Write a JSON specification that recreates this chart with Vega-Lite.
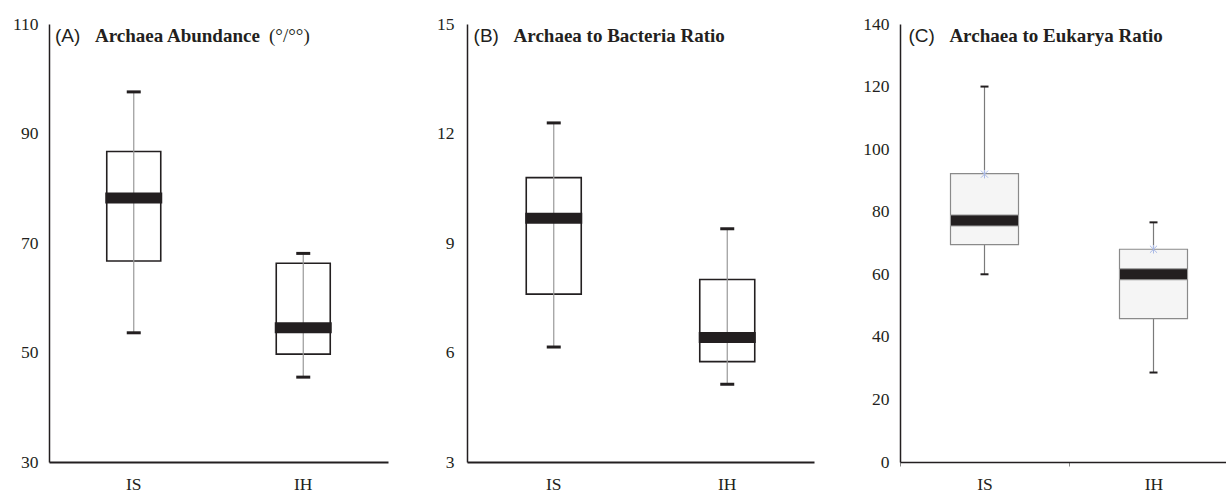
{
  "$schema": "https://vega.github.io/schema/vega-lite/v6.json",
  "padding": {"left": 12, "top": 15, "right": 0, "bottom": 0},
  "background": "white",
  "spacing": 48,
  "config": {
    "view": {"stroke": null},
    "axis": {
      "labelFont": "'Liberation Serif', 'DejaVu Serif', serif",
      "labelFontSize": 17.5,
      "labelColor": "#231f20",
      "domainColor": "#231f20",
      "grid": false,
      "ticks": false,
      "title": null
    }
  },
  "hconcat": [
    {
      "width": 339,
      "height": 438,
      "data": {"values": [
        {"g": "IS", "min": 53.6, "q1": 66.7, "med": 78.2, "q3": 86.7, "max": 97.6},
        {"g": "IH", "min": 45.5, "q1": 49.7, "med": 54.5, "q3": 66.3, "max": 68.1}
      ]},
      "encoding": {
        "x": {"field": "g", "type": "nominal", "sort": ["IS", "IH"],
          "scale": {"domain": ["IS", "IH"], "paddingInner": 0, "paddingOuter": 0},
          "axis": {"labelAngle": 0, "labelPadding": 13, "domainWidth": 2}}
      },
      "layer": [
        {"mark": {"type": "bar", "size": 54, "fill": "white", "stroke": "#231f20", "strokeWidth": 1.6},
         "encoding": {"y": {"field": "q1", "type": "quantitative",
            "scale": {"domain": [30, 110], "nice": false, "zero": false},
            "axis": {"values": [30, 50, 70, 90, 110], "labelPadding": 11, "domainWidth": 1.5}},
           "y2": {"field": "q3"}}},
        {"mark": {"type": "rule", "color": "#999999", "strokeWidth": 1.2},
         "encoding": {"y": {"field": "min", "type": "quantitative"}, "y2": {"field": "max"}}},
        {"mark": {"type": "tick", "size": 57, "thickness": 11, "color": "#231f20", "opacity": 1},
         "encoding": {"y": {"field": "med", "type": "quantitative"}}},
        {"mark": {"type": "tick", "size": 14, "thickness": 3, "color": "#231f20", "opacity": 1},
         "encoding": {"y": {"field": "min", "type": "quantitative"}}},
        {"mark": {"type": "tick", "size": 14, "thickness": 3, "color": "#231f20", "opacity": 1},
         "encoding": {"y": {"field": "max", "type": "quantitative"}}},
        {"data": {"values": [{"t": "(A)"}]},
         "mark": {"type": "text", "font": "'Liberation Sans', Arial, sans-serif", "fontSize": 19, "align": "left", "baseline": "alphabetic", "dx": 6, "dy": 18, "color": "#231f20"},
         "encoding": {"x": {"datum": "IS", "bandPosition": 0}, "y": {"datum": 110}, "text": {"field": "t"}}},
        {"data": {"values": [{"t": "Archaea Abundance"}]},
         "mark": {"type": "text", "font": "'Liberation Serif', 'DejaVu Serif', serif", "fontWeight": "bold", "fontSize": 19, "align": "left", "baseline": "alphabetic", "dx": 46, "dy": 18, "color": "#231f20"},
         "encoding": {"x": {"datum": "IS", "bandPosition": 0}, "y": {"datum": 110}, "text": {"field": "t"}}},
        {"data": {"values": [{"t": "(°/°°)"}]},
         "mark": {"type": "text", "font": "'Liberation Serif', 'DejaVu Serif', serif", "fontSize": 19, "align": "left", "baseline": "alphabetic", "dx": 220, "dy": 18, "color": "#231f20"},
         "encoding": {"x": {"datum": "IS", "bandPosition": 0}, "y": {"datum": 110}, "text": {"field": "t"}}}
      ]
    },
    {
      "width": 347,
      "height": 438,
      "data": {"values": [
        {"g": "IS", "min": 6.15, "q1": 7.6, "med": 9.68, "q3": 10.79, "max": 12.29},
        {"g": "IH", "min": 5.13, "q1": 5.75, "med": 6.41, "q3": 8.0, "max": 9.39}
      ]},
      "encoding": {
        "x": {"field": "g", "type": "nominal", "sort": ["IS", "IH"],
          "scale": {"domain": ["IS", "IH"], "paddingInner": 0, "paddingOuter": 0},
          "axis": {"labelAngle": 0, "labelPadding": 13, "domainWidth": 2}}
      },
      "layer": [
        {"mark": {"type": "bar", "size": 55, "fill": "white", "stroke": "#231f20", "strokeWidth": 1.6},
         "encoding": {"y": {"field": "q1", "type": "quantitative",
            "scale": {"domain": [3, 15], "nice": false, "zero": false},
            "axis": {"values": [3, 6, 9, 12, 15], "labelPadding": 13, "domainWidth": 1.5}},
           "y2": {"field": "q3"}}},
        {"mark": {"type": "rule", "color": "#999999", "strokeWidth": 1.2},
         "encoding": {"y": {"field": "min", "type": "quantitative"}, "y2": {"field": "max"}}},
        {"mark": {"type": "tick", "size": 57, "thickness": 11, "color": "#231f20", "opacity": 1},
         "encoding": {"y": {"field": "med", "type": "quantitative"}}},
        {"mark": {"type": "tick", "size": 14, "thickness": 3, "color": "#231f20", "opacity": 1},
         "encoding": {"y": {"field": "min", "type": "quantitative"}}},
        {"mark": {"type": "tick", "size": 14, "thickness": 3, "color": "#231f20", "opacity": 1},
         "encoding": {"y": {"field": "max", "type": "quantitative"}}},
        {"data": {"values": [{"t": "(B)"}]},
         "mark": {"type": "text", "font": "'Liberation Sans', Arial, sans-serif", "fontSize": 19, "align": "left", "baseline": "alphabetic", "dx": 6.6, "dy": 18, "color": "#231f20"},
         "encoding": {"x": {"datum": "IS", "bandPosition": 0}, "y": {"datum": 15}, "text": {"field": "t"}}},
        {"data": {"values": [{"t": "Archaea to Bacteria Ratio"}]},
         "mark": {"type": "text", "font": "'Liberation Serif', 'DejaVu Serif', serif", "fontWeight": "bold", "fontSize": 19, "align": "left", "baseline": "alphabetic", "dx": 46.6, "dy": 18, "color": "#231f20"},
         "encoding": {"x": {"datum": "IS", "bandPosition": 0}, "y": {"datum": 15}, "text": {"field": "t"}}}
      ]
    },
    {
      "width": 338,
      "height": 438,
      "data": {"values": [
        {"g": "IS", "min": 60, "q1": 69.5, "med": 77.2, "q3": 92.2, "max": 120, "mean": 92},
        {"g": "IH", "min": 28.6, "q1": 45.8, "med": 60, "q3": 68, "max": 76.6, "mean": 68}
      ]},
      "encoding": {
        "x": {"field": "g", "type": "nominal", "sort": ["IS", "IH"],
          "scale": {"domain": ["IS", "IH"], "paddingInner": 0, "paddingOuter": 0},
          "axis": {"labelAngle": 0, "labelPadding": 9, "domainWidth": 1.5, "ticks": true, "tickBand": "extent", "tickSize": 4, "tickColor": "#888888"}}
      },
      "layer": [
        {"mark": {"type": "rule", "color": "#7a7a7a", "strokeWidth": 1.2},
         "encoding": {"y": {"field": "min", "type": "quantitative",
            "scale": {"domain": [0, 140], "nice": false},
            "axis": {"values": [0, 20, 40, 60, 80, 100, 120, 140], "labelPadding": 11, "domainWidth": 1.5}},
           "y2": {"field": "max"}}},
        {"mark": {"type": "bar", "size": 68, "fill": "#f5f5f5", "stroke": "#8a8a8a", "strokeWidth": 1.2},
         "encoding": {"y": {"field": "q1", "type": "quantitative"}, "y2": {"field": "q3"}}},
        {"mark": {"type": "tick", "size": 68, "thickness": 11, "color": "#231f20", "opacity": 1, "stroke": "#9a9a9a", "strokeWidth": 1},
         "encoding": {"y": {"field": "med", "type": "quantitative"}}},
        {"mark": {"type": "tick", "size": 8, "thickness": 2, "color": "#231f20", "opacity": 1},
         "encoding": {"y": {"field": "min", "type": "quantitative"}}},
        {"mark": {"type": "tick", "size": 8, "thickness": 2, "color": "#231f20", "opacity": 1},
         "encoding": {"y": {"field": "max", "type": "quantitative"}}},
        {"mark": {"type": "point", "shape": "M-1,-1L1,1M1,-1L-1,1M0,-1.2L0,1.2", "size": 50, "filled": false, "stroke": "#a9b9e6", "strokeWidth": 1, "opacity": 1},
         "encoding": {"y": {"field": "mean", "type": "quantitative"}}},
        {"data": {"values": [{"t": "(C)"}]},
         "mark": {"type": "text", "font": "'Liberation Sans', Arial, sans-serif", "fontSize": 19, "align": "left", "baseline": "alphabetic", "dx": 8.4, "dy": 18, "color": "#231f20"},
         "encoding": {"x": {"datum": "IS", "bandPosition": 0}, "y": {"datum": 140}, "text": {"field": "t"}}},
        {"data": {"values": [{"t": "Archaea to Eukarya Ratio"}]},
         "mark": {"type": "text", "font": "'Liberation Serif', 'DejaVu Serif', serif", "fontWeight": "bold", "fontSize": 19, "align": "left", "baseline": "alphabetic", "dx": 49.4, "dy": 18, "color": "#231f20"},
         "encoding": {"x": {"datum": "IS", "bandPosition": 0}, "y": {"datum": 140}, "text": {"field": "t"}}}
      ]
    }
  ]
}
